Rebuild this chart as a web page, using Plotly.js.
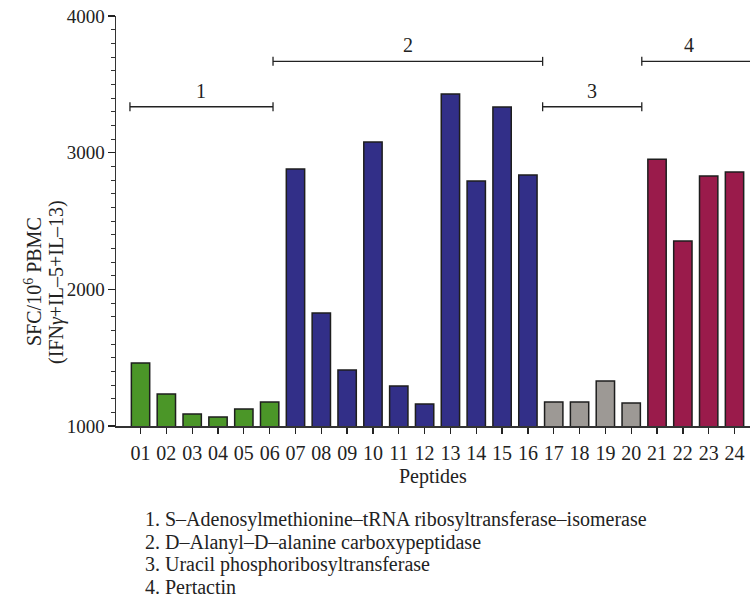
<!DOCTYPE html>
<html>
<head>
<meta charset="utf-8">
<script src="https://cdn.plot.ly/plotly-3.0.1.min.js"></script>
<style>html,body{margin:0;padding:0;background:#fff;}#chart{width:751px;height:610px;}</style>
</head>
<body>
<div id="chart"></div>
<script>
// ---- data ----
const peptides = ["01","02","03","04","05","06","07","08","09","10","11","12",
                  "13","14","15","16","17","18","19","20","21","22","23","24"];
const sfc = [1461, 1234, 1088, 1066, 1124, 1176, 2880, 1827, 1410, 3078, 1293, 1161,
             3429, 2792, 3334, 2836, 1176, 1176, 1329, 1168, 2951, 2353, 2829, 2858];
const groupOfPeptide = [1,1,1,1,1,1, 2,2,2,2,2,2,2,2,2,2, 3,3,3,3, 4,4,4,4];
const groupColors = {1: "#4b9628", 2: "#322f88", 3: "#9d9995", 4: "#9a1b4b"};
const bracketLabels = ["1", "2", "3", "4"];
const bracketStart = [-0.41, 5.13, 15.57, 19.41];
const bracketEnd   = [5.13, 15.57, 19.41, 24.5];
const bracketLabelX = [2.36, 10.35, 17.49, 21.24];
const bracketLevel = [3336, 3668, 3336, 3668];
const yTitleLines = ["SFC/10<sup>6</sup> PBMC", "(IFN<i>γ</i>+IL–5+IL–13)"];
const xTitle = "Peptides";
const proteinNames = [
  "1. S–Adenosylmethionine–tRNA ribosyltransferase–isomerase",
  "2. D–Alanyl–D–alanine carboxypeptidase",
  "3. Uracil phosphoribosyltransferase",
  "4. Pertactin"
];

const xIdx = peptides.map((p, i) => i);
const FONT = "Liberation Serif, Times New Roman, serif";
const INK = "#222";

const trace = {
  type: "bar",
  x: xIdx,
  y: sfc,
  width: 0.71,
  marker: {
    color: groupOfPeptide.map(g => groupColors[g]),
    line: {color: "#1e1e1e", width: 1.5}
  },
  hoverinfo: "skip"
};

const plotLeft = 116, plotRight = 750, plotW = plotRight - plotLeft;
const plotTop = 16, plotBottom = 426, plotH = plotBottom - plotTop;
const px = (x) => (x - plotLeft) / plotW;
const py = (y) => (plotBottom - y) / plotH;

const shapes = [];
const annotations = [];
bracketLabels.forEach((lab, i) => {
  shapes.push({type: "line", xref: "x", yref: "y", x0: bracketStart[i], x1: bracketEnd[i],
               y0: bracketLevel[i], y1: bracketLevel[i], line: {color: INK, width: 1.3}});
  [bracketStart[i], bracketEnd[i]].forEach(xe => {
    shapes.push({type: "line", xref: "x", yref: "y", ysizemode: "pixel", yanchor: bracketLevel[i],
                 x0: xe, x1: xe, y0: -4.5, y1: 4.5, line: {color: INK, width: 1.3}});
  });
  annotations.push({xref: "x", yref: "y", x: bracketLabelX[i], y: bracketLevel[i],
                    text: lab, showarrow: false, yanchor: "bottom", yshift: 3,
                    font: {family: FONT, size: 20, color: INK}});
});

// y-axis title as two rotated lines
const yTitleX = [33, 56];
yTitleLines.forEach((t, i) => {
  annotations.push({xref: "paper", yref: "paper", x: px(yTitleX[i]), y: py(282),
                    xanchor: "center", yanchor: "middle", textangle: -90,
                    text: t, showarrow: false, font: {family: FONT, size: 20, color: INK}});
});

// x-axis title
annotations.push({xref: "paper", yref: "paper", x: 0.5, y: py(476),
                  xanchor: "center", yanchor: "middle", text: xTitle, showarrow: false,
                  font: {family: FONT, size: 20, color: INK}});

const textTops = [519, 542, 564, 587];
proteinNames.forEach((t, i) => {
  annotations.push({xref: "paper", yref: "paper", x: px(143),
                    y: py(textTops[i]), xanchor: "left", yanchor: "middle",
                    text: t, showarrow: false, font: {family: FONT, size: 20, color: INK}});
});

const layout = {
  width: 751, height: 610,
  margin: {l: plotLeft, r: 751 - plotRight, t: plotTop, b: 610 - plotBottom},
  paper_bgcolor: "#fff", plot_bgcolor: "#fff",
  showlegend: false,
  font: {family: FONT, size: 18, color: INK},
  xaxis: {
    range: [-0.95, 23.6],
    tickmode: "array", tickvals: xIdx, ticktext: peptides,
    ticks: "outside", ticklen: 6, tickwidth: 1.3, tickcolor: INK,
    ticklabelstandoff: 2,
    showline: true, linecolor: "#333", linewidth: 1.5,
    showgrid: false, zeroline: false,
    tickfont: {family: FONT, size: 20, color: INK}
  },
  yaxis: {
    range: [1000, 4000],
    tickvals: [1000, 2000, 3000, 4000],
    ticks: "outside", ticklen: 7, tickwidth: 1.3, tickcolor: INK,
    ticklabelstandoff: -1,
    minor: {dtick: 100, ticks: "outside", ticklen: 4, tickwidth: 1, tickcolor: "#333", showgrid: false},
    showline: true, linecolor: "#333", linewidth: 1.5,
    showgrid: false, zeroline: false,
    tickfont: {family: FONT, size: 19, color: INK}
  },
  shapes: shapes,
  annotations: annotations
};

Plotly.newPlot("chart", [trace], layout, {staticPlot: true, displayModeBar: false});
</script>
</body>
</html>
